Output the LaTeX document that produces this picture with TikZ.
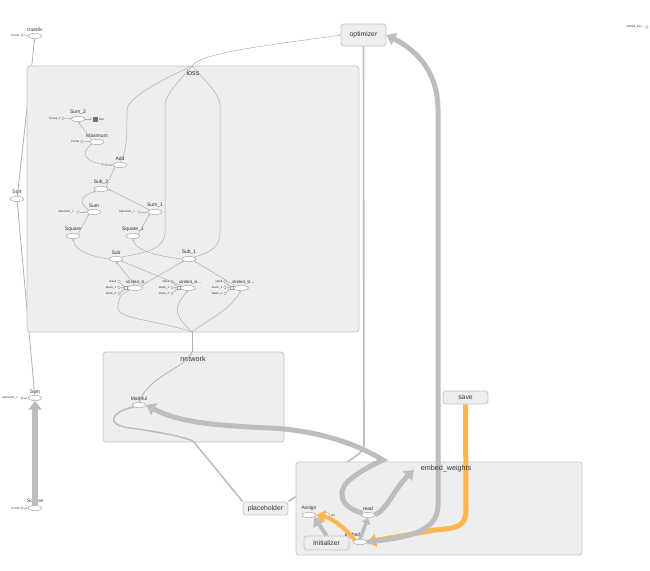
\documentclass[tikz,border=0pt]{standalone}
\usepackage{fontspec}
\setmainfont{Liberation Sans}
\usetikzlibrary{shapes.geometric,arrows.meta,positioning}
\definecolor{clfill}{HTML}{EEEEEE}
\definecolor{clborder}{HTML}{C6C6C6}
\definecolor{edgeg}{HTML}{B0B0B0}
\definecolor{thickg}{HTML}{BDBDBD}
\definecolor{orng}{HTML}{FFB74D}
\definecolor{txt}{HTML}{333333}
\definecolor{opb}{HTML}{9A9A9A}
\begin{document}
\begin{tikzpicture}[x=1pt,y=-1pt,
 cl/.style={draw=clborder,fill=clfill,rounded corners=3pt,line width=0.8pt},
 box/.style={draw=clborder,fill=clfill,rounded corners=3pt,line width=0.8pt,font=\fontsize{6.8}{7}\selectfont,text=txt,minimum width=45pt,minimum height=13pt,inner sep=0},
 op/.style={ellipse,draw=opb,fill=white,line width=0.4pt,minimum width=14pt,minimum height=5pt,inner sep=0},
 lab/.style={font=\fontsize{5}{5}\selectfont,text=txt,inner sep=0},
 ttl/.style={font=\fontsize{7.2}{7.5}\selectfont,text=txt,inner sep=0},
 tl/.style={font=\fontsize{3}{3}\selectfont,text=txt,inner sep=0},
 cst/.style={circle,draw=opb,fill=white,line width=0.3pt,minimum size=2.8pt,inner sep=0},
 e/.style={draw=edgeg,line width=0.5pt},
 ea/.style={e,-{Stealth[length=2.2pt,width=1.8pt]}},
 med/.style={draw=thickg,line width=1.6pt},
 thk/.style={draw=thickg,line width=5pt,-{Triangle[length=9pt,width=13pt]}},
 org/.style={draw=orng,line width=5pt,-{Triangle[length=9pt,width=13pt]}},
 icon/.style={draw=opb,fill=white,line width=0.3pt,minimum width=3pt,minimum height=3pt,inner sep=0},
]
\useasboundingbox (0,0) rectangle (650,570);

% ---------- left column (outside clusters)
\node[op] (truediv) at (35,36) {};
\node[lab,above=1.2pt of truediv] {truediv};
\node[cst] (c0) at (22,35) {};
\node[tl,left=1pt of c0] {Const};
\draw[ea] (c0) -- (truediv);

\node[op] (Sqrt) at (17,199) {};
\node[lab,above=1.2pt of Sqrt] {Sqrt};
\node[op] (lsum) at (35,398) {};
\node[lab,above=1.2pt of lsum] {Sum};
\node[cst] (c1) at (22,398) {};
\node[tl,left=1pt of c1] {reduction\_i...};
\draw[ea] (c1) -- (lsum);
\node[op] (lsquare) at (35,508) {};
\node[lab,above=1.2pt of lsquare] {Square};
\node[cst] (c2) at (22,508) {};
\node[tl,left=1pt of c2] {Const};
\draw[ea] (c2) -- (lsquare);

\draw[ea,line width=0.8pt] (Sqrt) -- (truediv);
\draw[ea,line width=0.8pt] (lsum) -- (Sqrt);
\draw[thk,line width=6pt] (lsquare.north) -- (lsum.south);

% top-right tiny node
\node[tl] (ew) at (635,27) {embed\_wei...};
\node[cst] (ewc) at (647,27) {};

% ---------- optimizer and long edges behind clusters
\node[box,minimum height=22pt] (optimizer) at (363.5,35) {optimizer};
\node[box] (placeholder) at (265.5,508.5) {placeholder};
\coordinate (optdown) at (364,445);
\draw[med] (optimizer.south) -- (optdown) .. controls (364,452) and (355,457) .. (335,470) -- (placeholder.north east);

% ---------- loss cluster
\draw[cl] (27,66) rectangle (359,332);
\node[ttl] (losslab) at (193,73) {loss};
\coordinate (losstop) at (192,66);
\coordinate (lossbot) at (192,332);
\draw[ea] (losstop) .. controls (200,52) and (280,44) .. (optimizer.west);

\node[op] (Sum2) at (78,119) {};
\node[lab,above=1.2pt of Sum2] {Sum\_2};
\node[cst] (k1) at (63,118.5) {};
\node[tl,left=1pt of k1] {Const\_1};
\draw[ea] (k1) -- (Sum2);
\node[draw=none,fill=black!55,minimum size=5pt,inner sep=0] (summ) at (95,119) {};
\node[tl,right=1pt of summ] {loss};
\draw[ea] (Sum2) -- (summ);

\node[op] (Maximum) at (97,142) {};
\node[lab,above=1.2pt of Maximum] {Maximum};
\node[cst] (k2) at (82,141.5) {};
\node[tl,left=1pt of k2] {Const};
\draw[ea] (k2) -- (Maximum);
\draw[ea] (Maximum.north west) -- (Sum2.south);

\node[op] (Add) at (120,165) {};
\node[lab,above=1.2pt of Add] {Add};
\node[cst] (k3) at (106,165) {};
\node[tl,left=1pt of k3] {y};
\draw[ea] (k3) -- (Add);
\draw[ea] (Add.west) .. controls (95,165) and (75,158) .. (Maximum.south west);

\node[op] (Sub2) at (101,189) {};
\node[lab,above=1.2pt of Sub2] {Sub\_2};
\draw[ea] (Sub2.north east) -- (Add.south west);

\node[op] (Sum) at (94,212) {};
\node[lab,above=1.2pt of Sum] {Sum};
\node[cst] (k4) at (78,212) {};
\node[tl,left=1pt of k4] {reduction\_i...};
\draw[ea] (k4) -- (Sum);

\node[op] (Sum1) at (155,212) {};
\node[lab,above=1.2pt of Sum1] {Sum\_1};
\node[cst] (k5) at (139,212) {};
\node[tl,left=1pt of k5] {reduction\_i...};
\draw[ea] (k5) -- (Sum1);

\draw[ea] (Sum.north west) .. controls (80,204) and (78,197) .. (Sub2.south west);
\draw[ea] (Sum1.north west) -- (Sub2.east);

\node[op] (Square) at (73,236) {};
\node[lab,above=1.2pt of Square] {Square};
\node[op] (Square1) at (133,236) {};
\node[lab,above=1.2pt of Square1] {Square\_1};
\draw[ea] (Square.north east) -- (Sum.south west);
\draw[ea] (Square1.north east) -- (Sum1.south west);

\node[op] (Sub) at (116,259) {};
\node[lab,above=1.2pt of Sub] {Sub};
\node[op] (Sub1) at (189,259) {};
\node[lab,above=1.2pt of Sub1] {Sub\_1};
\draw[ea] (Sub.west) .. controls (95,257) and (75,252) .. (Square.south);
\draw[ea] (Sub1.west) .. controls (165,257) and (135,252) .. (Square1.south);

% output edges to loss top
\draw[e] (Add.north) .. controls (127,152) and (127,135) .. (127,110) .. controls (127,100) and (150,85) .. (losstop);
\draw[e] (Sub.north east) .. controls (150,252) and (165,248) .. (165,232) -- (165,105) .. controls (165,95) and (180,80) .. (losstop);
\draw[e] (Sub1.north east) .. controls (210,252) and (220,248) .. (220,232) -- (220,105) .. controls (220,95) and (205,80) .. (losstop);

% strided slices
\foreach \n/\x in {s1/135,s2/188,s3/241}{
  \node[op,minimum width=15pt] (\n) at (\x,288) {};
  \node[lab,font=\fontsize{4.3}{4.3}\selectfont,anchor=south] at (\x+2,285) {strided\_sl...};
  \node[icon] (\n i) at (\x-9.5,288) {};
  \node[cst] (\n a) at (\x-16,281.5) {};
  \node[cst] (\n b) at (\x-16,287.5) {};
  \node[cst] (\n c) at (\x-16,293.5) {};
  \node[tl,left=1pt of \n a] {stack};
  \node[tl,left=1pt of \n b] {stack\_1};
  \node[tl,left=1pt of \n c] {stack\_2};
  \draw[ea] (\n a) -- (\n i);
  \draw[ea] (\n b) -- (\n i);
  \draw[ea] (\n c) -- (\n i);
}
\draw[ea] (s1.north) -- (Sub.south);
\draw[ea] (s2.north west) -- (Sub.south east);
\draw[ea] (s1.north east) -- (Sub1.south west);
\draw[ea] (s3.north west) -- (Sub1.south east);

\draw[ea] (lossbot) .. controls (150,318) and (115,320) .. (118,305) .. controls (120,295) .. (s1.south west);
\draw[ea] (lossbot) .. controls (178,318) and (170,310) .. (s2.south);
\draw[ea] (lossbot) .. controls (210,318) and (228,312) .. (s3.south);

% ---------- network cluster
\draw[cl] (103,352) rectangle (284,442);
\node[ttl] at (193,359) {network};
\coordinate (nettop) at (192,352);
\coordinate (netbot) at (194,442);
\draw[e,line width=0.8pt] (lossbot) -- (nettop);
\node[op] (MatMul) at (139,405) {};
\node[lab,above=1.2pt of MatMul] {MatMul};
\draw[ea,line width=0.8pt] (nettop) .. controls (186,368) and (150,375) .. (MatMul.north);
\draw[med] (MatMul.south west) .. controls (110,412) and (105,425) .. (130,428) .. controls (160,432) and (190,438) .. (netbot) -- (placeholder.north west);

% ---------- embed_weights cluster
\draw[cl] (296,462) rectangle (582,555);
\node[box,minimum height=14pt] (Initializer) at (326.5,543) {Initializer};
\node[op] (Assign) at (309,515) {};
\node[lab,above=1.2pt of Assign] {Assign};
\node[op,minimum width=7pt] (init) at (326,515) {};
\node[tl,right=1pt of init] {init};
\node[op] (read) at (368,515) {};
\node[lab,above=1.2pt of read] {read};
\node[op] (embedvar) at (360,542) {};
\node[lab,above=1.2pt of embedvar,xshift=-6pt] {embed\_};
\node[box] (save) at (465.5,397.5) {save};

\draw[thk,line width=4pt] (Initializer.north) -- (Assign.south east);
\draw[thk,line width=3.5pt,-{Triangle[length=6pt,width=9pt]}] (embedvar.north) -- (read.south);
\draw[org] (save.south) -- (466,510) .. controls (466,528) and (455,528) .. (435,530) -- (embedvar.east);
\draw[org,line width=4pt] (embedvar.north west) .. controls (345,528) and (332,518) .. (Assign.east);

\draw[thk] (read.north west) .. controls (340,508) and (335,490) .. (352,478) .. controls (362,470) and (372,465) .. (383,460)
  .. controls (350,440) and (310,430) .. (270,428) .. controls (200,425) and (175,420) .. (MatMul.east);
\draw[thk] (read.east) .. controls (388,508) and (395,488) .. (414,470);
\draw[thk] (embedvar.east) .. controls (400,538) and (438,535) .. (438,505) -- (438,110) .. controls (438,75) and (420,52) .. (optimizer.east);
\node[ttl] (embtitle) at (446,469) {embed\_weights};
\end{tikzpicture}
\end{document}
